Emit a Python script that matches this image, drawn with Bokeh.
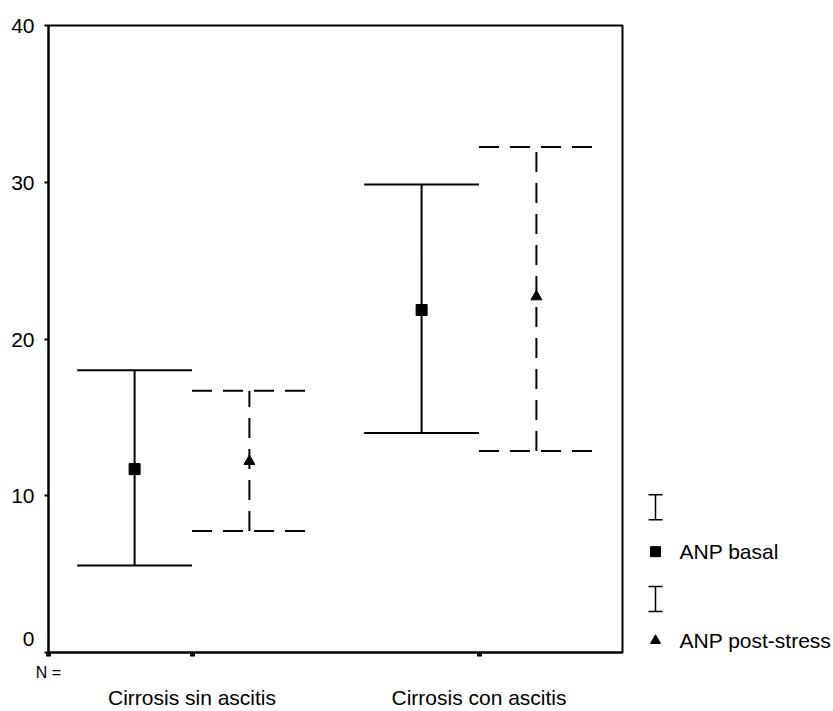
from bokeh.plotting import figure
from bokeh.models import Range1d, FixedTicker, LinearAxis
from bokeh.layouts import row
from bokeh.core.properties import value
from bokeh.embed import file_html
from bokeh.resources import INLINE

# ---- data ----
categories = ["Cirrosis sin ascitis", "Cirrosis con ascitis"]
basal_mean = [11.7, 21.85]
basal_lower = [5.55, 14.0]
basal_upper = [18.0, 29.85]
post_mean = [12.2, 22.7]
post_lower = [7.75, 12.85]
post_upper = [16.7, 32.25]
y_ticks = [0, 10, 20, 30, 40]
series_labels = ["ANP basal", "ANP post-stress"]
n_label = "N ="

FONT = "Liberation Sans"
offset = 0.2
cap = 0.2

p = figure(width=640, height=711, x_range=Range1d(0.5, 2.5), y_range=Range1d(0, 40),
           output_backend="svg", toolbar_location=None,
           min_border_left=48, min_border_right=18, min_border_top=25, min_border_bottom=58)
p.xgrid.visible = False
p.ygrid.visible = False
p.outline_line_color = "black"
p.outline_line_width = 2
p.background_fill_color = "white"
p.border_fill_color = "white"

for ax in (p.xaxis[0], p.yaxis[0]):
    ax.axis_line_width = 2
    ax.axis_line_color = "black"
    ax.major_tick_line_color = "black"
    ax.minor_tick_line_color = None
    ax.major_tick_in = 0
    ax.major_label_text_font = FONT
    ax.major_label_text_font_size = "21px"
    ax.major_label_text_color = "black"

p.yaxis.ticker = FixedTicker(ticks=y_ticks)
p.yaxis.major_tick_out = 4
p.yaxis.major_tick_line_width = 2
p.yaxis.major_label_standoff = 10
p.yaxis.major_label_overrides = {0: "0\n "}

xt = [1 + i for i in range(len(categories))]
# first bottom axis: tick squares, only "N =" label at the corner
p.xaxis.ticker = FixedTicker(ticks=[0.5] + xt)
p.xaxis.major_label_overrides = {0.5: n_label, **{x: "" for x in xt}}
p.xaxis.major_label_text_font_size = "16px"
p.xaxis.major_tick_out = 4
p.xaxis.major_tick_line_width = 5
p.xaxis.major_label_standoff = 7

# second bottom axis: category names
cat_axis = LinearAxis(ticker=FixedTicker(ticks=xt),
                      major_label_overrides={x: c for x, c in zip(xt, categories)},
                      axis_line_color=None, major_tick_line_color=None, minor_tick_line_color=None,
                      major_tick_in=0, major_tick_out=0, major_label_standoff=2,
                      major_label_text_font=FONT, major_label_text_font_size="21px",
                      major_label_text_color="black")
p.add_layout(cat_axis, "below")

bx = [x - offset for x in xt]
px = [x + offset for x in xt]

# basal error bars (solid)
p.segment(bx, basal_lower, bx, basal_upper, line_color="black", line_width=2)
p.segment([x - cap for x in bx], basal_upper, [x + cap for x in bx], basal_upper, line_color="black", line_width=2)
p.segment([x - cap for x in bx], basal_lower, [x + cap for x in bx], basal_lower, line_color="black", line_width=2)
# post-stress error bars (dashed)
p.segment(px, post_lower, px, post_upper, line_color="black", line_width=2, line_dash="20 11")
p.segment([x - cap for x in px], post_upper, [x + cap for x in px], post_upper, line_color="black", line_width=2, line_dash="20 11")
p.segment([x - cap for x in px], post_lower, [x + cap for x in px], post_lower, line_color="black", line_width=2, line_dash="20 11")

p.scatter(bx, basal_mean, marker="square", size=11, color="black")
p.scatter(px, post_mean, marker="triangle", size=11, color="black")

# ---- legend panel (page-pixel coordinates) ----
leg = figure(width=193, height=711, x_range=Range1d(640, 833), y_range=Range1d(653, 25),
             output_backend="svg", toolbar_location=None,
             min_border_left=0, min_border_right=0, min_border_top=25, min_border_bottom=58,
             x_axis_location=None, y_axis_location=None)
leg.xgrid.visible = False
leg.ygrid.visible = False
leg.outline_line_color = None

ix = 655
tops = [495, 587]
bots = [520, 612]
sym_y = [552, 641]
leg.segment([ix, ix], tops, [ix, ix], bots, line_color="black", line_width=1.5)
leg.segment([ix - 7] * 2, tops, [ix + 7] * 2, tops, line_color="black", line_width=1.5)
leg.segment([ix - 7] * 2, bots, [ix + 7] * 2, bots, line_color="black", line_width=1.5)
leg.scatter([ix], [sym_y[0]], marker="square", size=10, color="black")
leg.scatter([ix], [sym_y[1]], marker="triangle", size=10, color="black")
leg.text([679, 679], sym_y, text=series_labels, text_font=value(FONT), text_font_size="21px",
         text_baseline="middle", text_align="left", text_color="black")

layout = row(p, leg)
open("out.html", "w").write(file_html(layout, INLINE))
